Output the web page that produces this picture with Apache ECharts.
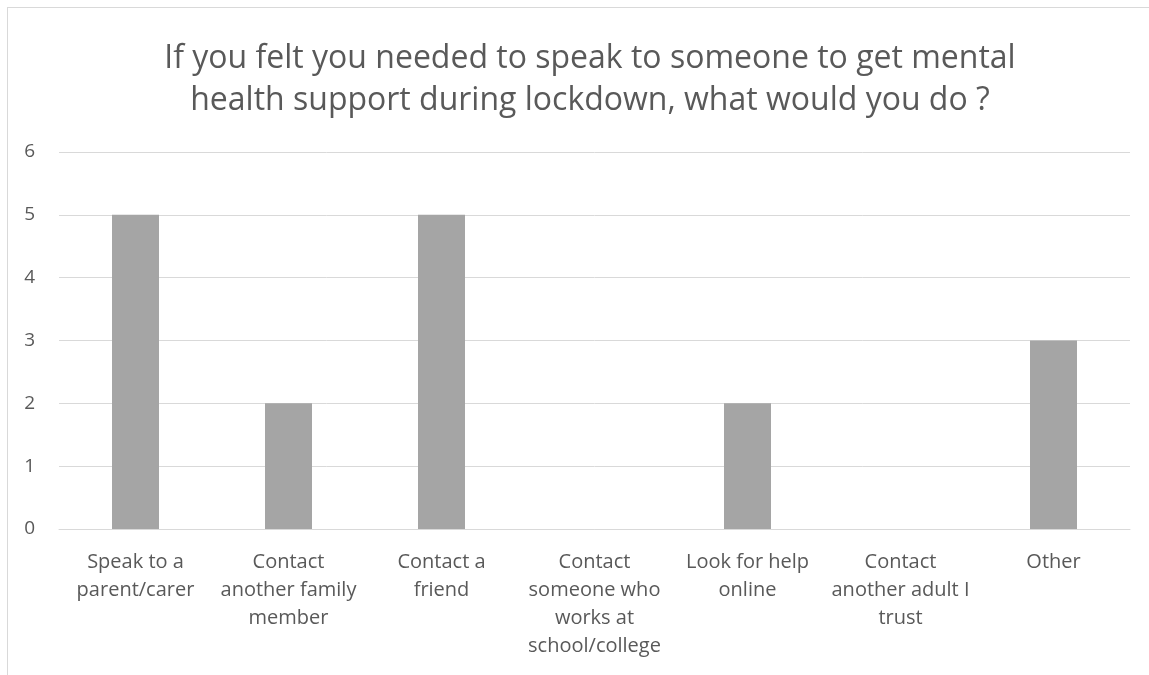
<!DOCTYPE html>
<html>
<head>
<meta charset="utf-8">
<script src="https://cdn.jsdelivr.net/npm/echarts@6/dist/echarts.min.js"></script>
<style>
html,body{margin:0;padding:0;background:#fff;overflow:hidden;}
#frame{position:absolute;left:7px;top:7px;width:1200px;height:700px;border-left:1px solid #d9d9d9;border-top:1px solid #d9d9d9;}
#chart{position:absolute;left:0;top:0;width:1149px;height:675px;}
</style>
</head>
<body>
<div id="frame"></div>
<div id="chart"></div>
<script>
var titleText = 'If you felt you needed to speak to someone to get mental\nhealth support during lockdown, what would you do ?';
var categories = [
	'Speak to a\nparent/carer',
	'Contact\nanother family\nmember',
	'Contact a\nfriend',
	'Contact\nsomeone who\nworks at\nschool/college',
	'Look for help\nonline',
	'Contact\nanother adult I\ntrust',
	'Other'
];
var counts = [5, 2, 5, 0, 2, 0, 3];
var yTicks = [0, 6, 1];

var myChart = echarts.init(document.getElementById('chart'));
var fontFam = '"Open Sans", "Noto Sans", sans-serif';

var option = {
	animation: false,
	title: {
		text: titleText,
		left: 585,
		top: 33,
		textAlign: 'center',
		textStyle: {
			color: '#595959',
			fontSize: 32,
			fontWeight: 'normal',
			fontFamily: fontFam,
			lineHeight: 42
		}
	},
	grid: {
		left: 59,
		right: 19,
		top: 152,
		bottom: 146
	},
	xAxis: {
		type: 'category',
		data: categories,
		axisLine: { lineStyle: { color: '#d9d9d9', width: 1 } },
		axisTick: { show: false },
		axisLabel: {
			color: '#595959',
			fontSize: 20,
			fontFamily: fontFam,
			lineHeight: 28,
			margin: 19,
			interval: 0
		}
	},
	yAxis: {
		type: 'value',
		min: yTicks[0],
		max: yTicks[1],
		interval: yTicks[2],
		axisLine: { show: false },
		axisTick: { show: false },
		splitLine: { lineStyle: { color: '#d9d9d9', width: 1 } },
		axisLabel: {
			color: '#595959',
			fontSize: 19,
			fontFamily: fontFam,
			margin: 24
		}
	},
	series: [{
		type: 'bar',
		data: counts,
		barWidth: 47,
		itemStyle: { color: '#a5a5a5' }
	}]
};

myChart.setOption(option);
</script>
</body>
</html>
